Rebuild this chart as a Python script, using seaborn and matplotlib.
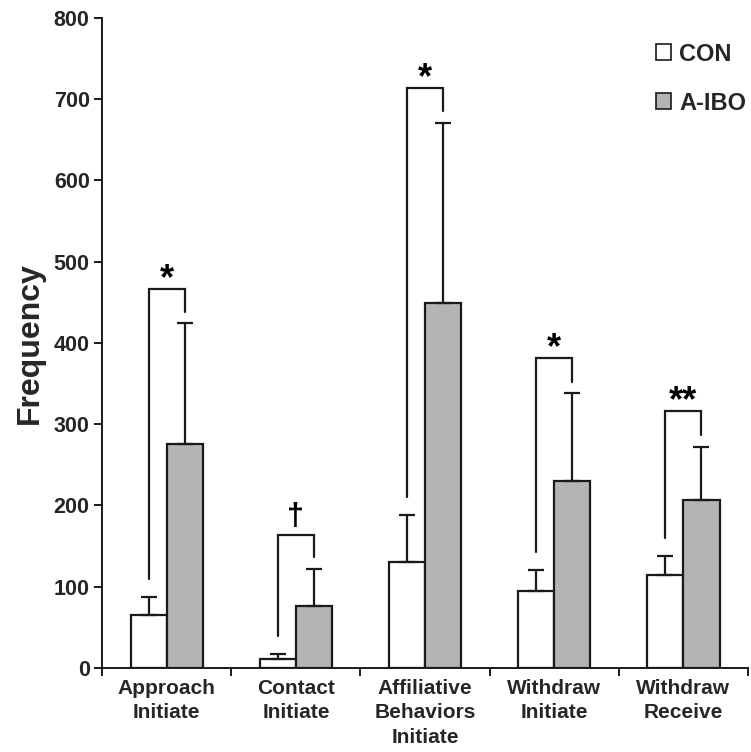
import matplotlib
matplotlib.use("Agg")
import matplotlib.pyplot as plt
import seaborn as sns
import pandas as pd
import numpy as np
from matplotlib.patches import Patch

categories = ["Approach\nInitiate", "Contact\nInitiate", "Affiliative\nBehaviors\nInitiate",
              "Withdraw\nInitiate", "Withdraw\nReceive"]
groups = ["CON", "A-IBO"]
con_mean = [65, 11, 130, 95, 114]
con_err = [22, 6, 58, 25, 24]
ibo_mean = [276, 76, 449, 230, 207]
ibo_err = [148, 46, 222, 108, 65]
bracket_top = [466, 163, 714, 381, 316]
sig_labels = ["*", "\u2020", "*", "*", "**"]

sns.set_theme(style="white")
plt.rcParams['font.family'] = ['Liberation Sans', 'DejaVu Sans']

df = pd.DataFrame({
    "cat": categories * 2,
    "val": con_mean + ibo_mean,
    "group": ["CON"] * 5 + ["A-IBO"] * 5,
})

fig = plt.figure(figsize=(7.51, 7.52), dpi=100)
ax = fig.add_axes([0.136, 0.112, 0.860, 0.864])

sns.barplot(data=df, x="cat", y="val", hue="group", hue_order=groups,
            palette={"CON": "white", "A-IBO": "#b4b4b4"}, width=0.56,
            edgecolor="#1a1a1a", linewidth=1.6, errorbar=None, ax=ax,
            legend=False, saturation=1)

offset = 0.14
xs = np.arange(len(categories))
x_con = xs - offset
x_ibo = xs + offset
ax.errorbar(x_con, con_mean, yerr=[np.zeros(5), con_err], fmt="none",
            ecolor="#1a1a1a", elinewidth=1.6, capsize=6, capthick=1.6, zorder=3)
ax.errorbar(x_ibo, ibo_mean, yerr=[np.zeros(5), ibo_err], fmt="none",
            ecolor="#1a1a1a", elinewidth=1.6, capsize=6, capthick=1.6, zorder=3)

gap_l = 22
gap_r = 14
for i in range(len(categories)):
    yl = con_mean[i] + con_err[i] + gap_l
    yr = ibo_mean[i] + ibo_err[i] + gap_r
    top = bracket_top[i]
    ax.plot([x_con[i], x_con[i], x_ibo[i], x_ibo[i]], [yl, top, top, yr],
            color="#1a1a1a", lw=1.6, zorder=3, solid_joinstyle="miter")
    if sig_labels[i] == "\u2020":
        ax.text(xs[i], top + 4, sig_labels[i], ha="center", va="bottom",
                fontsize=22, fontweight="bold", color="black")
    else:
        ax.text(xs[i], top - 10, sig_labels[i], ha="center", va="bottom",
                fontsize=26, fontweight="bold", color="black")

ax.set_xlim(-0.5, 4.5)
ax.set_ylim(0, 800)
ax.set_yticks(range(0, 801, 100))
ax.set_xticks(xs)
ax.set_xticklabels(categories, fontsize=15, fontweight="bold", linespacing=1.36)
ax.set_xticks(np.arange(-0.5, 4.6, 1.0), minor=True)
ax.tick_params(axis="x", which="major", length=0, pad=8)
ax.tick_params(axis="x", which="minor", length=6, width=1.4, color="#1a1a1a", direction="out", bottom=True)
ax.tick_params(axis="y", length=6, width=1.4, color="#1a1a1a", direction="out", left=True, labelsize=15.5, pad=3)
for lab in ax.get_yticklabels():
    lab.set_fontweight("bold")
ax.set_xlabel("")
ax.set_ylabel("Frequency", fontsize=23, fontweight="bold", labelpad=6)
for s in ["top", "right"]:
    ax.spines[s].set_visible(False)
for s in ["left", "bottom"]:
    ax.spines[s].set_color("#1a1a1a")
    ax.spines[s].set_linewidth(1.4)

handles = [Patch(facecolor="white", edgecolor="#1a1a1a", linewidth=1.2, label="CON"),
           Patch(facecolor="#b4b4b4", edgecolor="#1a1a1a", linewidth=1.2, label="A-IBO")]
leg = ax.legend(handles=handles, loc="upper right", bbox_to_anchor=(1.03, 0.995),
                frameon=False, prop={"weight": "bold", "size": 17},
                handlelength=0.64, handleheight=0.64, handletextpad=0.35, labelspacing=1.1)

fig.savefig("out.png", dpi=100)
